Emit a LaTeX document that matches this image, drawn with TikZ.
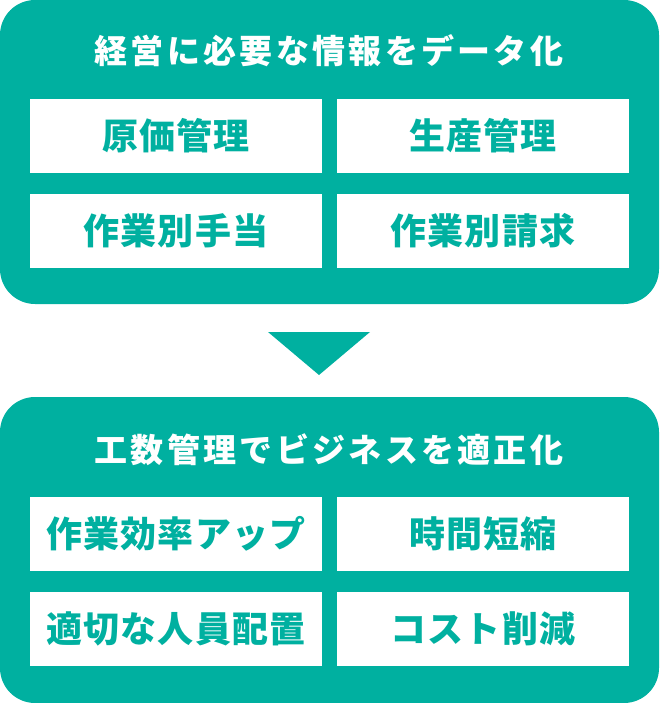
\documentclass[tikz,border=0pt]{standalone}
\usepackage{fontspec}
\newfontfamily\headfont{Noto Sans CJK JP Black}[LetterSpace=10]
\newfontfamily\itemfont{Noto Sans CJK JP Black}[LetterSpace=3]
\definecolor{panelteal}{RGB}{0,176,160}
\begin{document}
\begin{tikzpicture}[x=1pt,y=-1pt,
		panel/.style={fill=panelteal, rounded corners=35pt},
		head/.style={text=white, inner sep=0pt, font=\headfont\fontsize{33}{33}\selectfont},
		item/.style={fill=white, text=panelteal, inner sep=0pt, minimum width=292pt, minimum height=74pt, font=\itemfont\fontsize{36}{36}\selectfont}]
		\useasboundingbox (0,0) rectangle (659,703);
		% upper panel
		\fill[panel] (0,0) rectangle (659,304);
		\node[head] (headtop) at (329,51) {経営に必要な情報をデータ化};
		\node[item] (genka) at (176,136) {原価管理};
		\node[item] (seisan) at (483,136) {生産管理};
		\node[item] (teate) at (176,231) {作業別手当};
		\node[item] (seikyu) at (483,231) {作業別請求};
		
		% arrow
		\coordinate (arrl) at (268,332);
		\coordinate (arrr) at (370,332);
		\coordinate (arrtip) at (319,375);
		\fill[panelteal] (arrl) -- (arrr) -- (arrtip) -- cycle;
		
		% lower panel
		\fill[panel] (0,397) rectangle (659,703);
		\node[head] (headbot) at (329,450) {工数管理でビジネスを適正化};
		\node[item] (koritsu) at (176,534) {作業効率アップ};
		\node[item] (tanshuku) at (483,534) {時間短縮};
		\node[item] (haichi) at (176,629) {適切な人員配置};
		\node[item] (sakugen) at (483,629) {コスト削減};
	\end{tikzpicture}
\end{document}
